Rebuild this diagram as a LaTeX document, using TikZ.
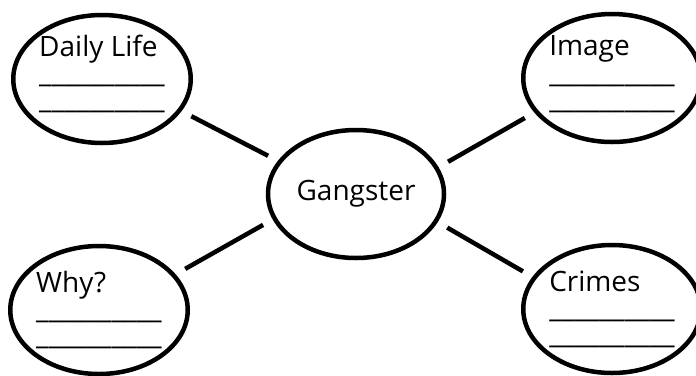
\documentclass[tikz,border=0pt]{standalone}
\usepackage{fontspec}
\setmainfont{Open Sans}
\usetikzlibrary{shapes}
\newcommand\blanks{\_\_\_\_\_\_\_\_\_\_}
\tikzset{every picture/.append style={line width=4.5bp}}

\begin{document}
\begin{tikzpicture}[x=1bp,y=-1bp]
      \tikzstyle{bubble}=[ellipse,draw,minimum width=176bp,minimum height=128bp,inner sep=0pt,align=left,font=\fontsize{28bp}{26bp}\selectfont]
      \tikzstyle{link}=[shorten >=11bp,shorten <=11bp]
      \useasboundingbox (0,0) rectangle (696,375);
      \node[bubble] at (356,194) (G) {Gangster};
      \node[bubble,text depth=15bp] at (102,79) (D) {Daily Life\\\blanks\\\blanks};
      \node[bubble,text depth=12bp] at (612,78) (I) {Image\\\blanks\\\blanks};
      \node[bubble] at (99,310) (W) {Why?\\\blanks\\\blanks};
      \node[bubble] at (612,309) (C) {Crimes\\\blanks\\\blanks};
      \draw(D.-22) edge[link] (G.157);
      \draw(G.18) edge[link] (I.-156);
      \draw(G.-163) edge[link] (W.25);
      \draw(G.-19) edge[link] (C.158);
    \end{tikzpicture}
\end{document}
